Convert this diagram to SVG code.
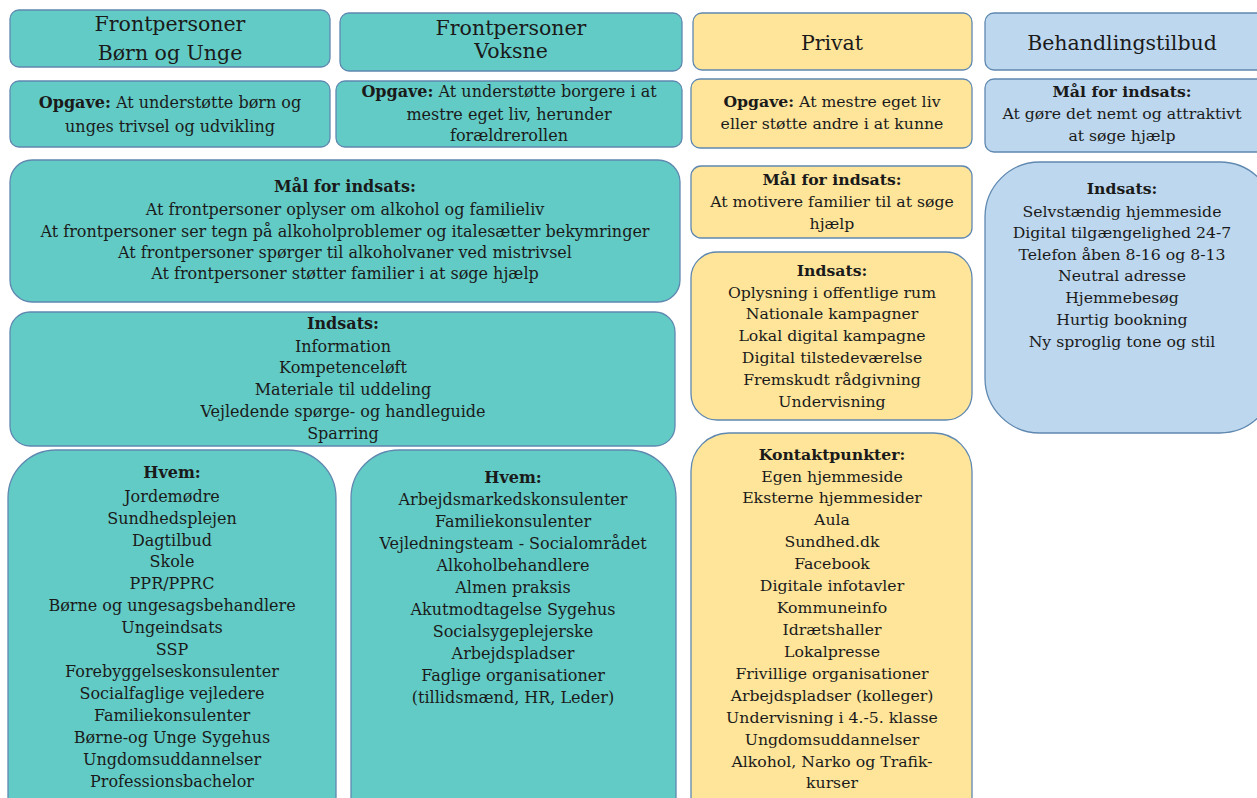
<svg xmlns="http://www.w3.org/2000/svg" width="1257" height="798" viewBox="0 0 1257 798">
  <style>
    .box { stroke: #5f88b0; stroke-width: 1.3; }
    .teal { fill: #63cbc5; }
    .yel { fill: #fee59a; }
    .blue { fill: #bdd7ee; }
    text { font-family: "DejaVu Serif", "Liberation Serif", serif; fill: #1a1a1a; text-anchor: middle; }
    .h { font-size: 20.5px; }
    .t { font-size: 15.7px; }
    .tt { font-size: 16px; }
    .b { font-weight: bold; }
  </style>
  <rect width="1257" height="798" fill="#ffffff"/>

  <!-- Column 1: Frontpersoner Børn og Unge -->
  <g id="hdr-boern">
    <rect class="box teal" x="10" y="10" width="320" height="57" rx="9"/>
    <text class="h" x="170" y="31">Frontpersoner</text>
    <text class="h" x="170" y="60">Børn og Unge</text>
  </g>
  <g id="opgave-boern">
    <rect class="box teal" x="10" y="81" width="320" height="66" rx="9"/>
    <text class="tt" x="170" y="108"><tspan class="b">Opgave:</tspan> At understøtte børn og</text>
    <text class="tt" x="170" y="132">unges trivsel og udvikling</text>
  </g>

  <!-- Column 2: Frontpersoner Voksne -->
  <g id="hdr-voksne">
    <rect class="box teal" x="340" y="13" width="342" height="58" rx="9"/>
    <text class="h" x="511" y="35">Frontpersoner</text>
    <text class="h" x="511" y="58">Voksne</text>
  </g>
  <g id="opgave-voksne">
    <rect class="box teal" x="336" y="81" width="346" height="66" rx="9"/>
    <text class="tt" x="509" y="97"><tspan class="b">Opgave:</tspan> At understøtte borgere i at</text>
    <text class="tt" x="509" y="120">mestre eget liv, herunder</text>
    <text class="tt" x="509" y="141">forældrerollen</text>
  </g>

  <!-- Shared frontpersoner boxes -->
  <g id="maal-front">
    <rect class="box teal" x="10" y="160" width="670" height="142" rx="22"/>
    <text class="tt b" x="345" y="192">Mål for indsats:</text>
    <text class="tt" x="345" y="215">At frontpersoner oplyser om alkohol og familieliv</text>
    <text class="tt" x="345" y="237">At frontpersoner ser tegn på alkoholproblemer og italesætter bekymringer</text>
    <text class="tt" x="345" y="258">At frontpersoner spørger til alkoholvaner ved mistrivsel</text>
    <text class="tt" x="345" y="279">At frontpersoner støtter familier i at søge hjælp</text>
  </g>
  <g id="indsats-front">
    <rect class="box teal" x="10" y="312" width="665" height="134" rx="20"/>
    <text class="tt b" x="343" y="329">Indsats:</text>
    <text class="tt" x="343" y="352">Information</text>
    <text class="tt" x="343" y="373">Kompetenceløft</text>
    <text class="tt" x="343" y="395">Materiale til uddeling</text>
    <text class="tt" x="343" y="417">Vejledende spørge- og handleguide</text>
    <text class="tt" x="343" y="439">Sparring</text>
  </g>

  <g id="hvem-boern">
    <rect class="box teal" x="8" y="450" width="328" height="400" rx="48"/>
    <text class="tt b" x="172" y="478">Hvem:</text>
    <text class="tt" x="172" y="502">Jordemødre</text>
    <text class="tt" x="172" y="524">Sundhedsplejen</text>
    <text class="tt" x="172" y="546">Dagtilbud</text>
    <text class="tt" x="172" y="567">Skole</text>
    <text class="tt" x="172" y="589">PPR/PPRC</text>
    <text class="tt" x="172" y="611">Børne og ungesagsbehandlere</text>
    <text class="tt" x="172" y="633">Ungeindsats</text>
    <text class="tt" x="172" y="655">SSP</text>
    <text class="tt" x="172" y="677">Forebyggelseskonsulenter</text>
    <text class="tt" x="172" y="699">Socialfaglige vejledere</text>
    <text class="tt" x="172" y="721">Familiekonsulenter</text>
    <text class="tt" x="172" y="743">Børne-og Unge Sygehus</text>
    <text class="tt" x="172" y="765">Ungdomsuddannelser</text>
    <text class="tt" x="172" y="787">Professionsbachelor</text>
  </g>

  <g id="hvem-voksne">
    <rect class="box teal" x="351" y="450" width="325" height="400" rx="48"/>
    <text class="tt b" x="513" y="483">Hvem:</text>
    <text class="tt" x="513" y="505">Arbejdsmarkedskonsulenter</text>
    <text class="tt" x="513" y="527">Familiekonsulenter</text>
    <text class="tt" x="513" y="549">Vejledningsteam - Socialområdet</text>
    <text class="tt" x="513" y="571">Alkoholbehandlere</text>
    <text class="tt" x="513" y="593">Almen praksis</text>
    <text class="tt" x="513" y="615">Akutmodtagelse Sygehus</text>
    <text class="tt" x="513" y="637">Socialsygeplejerske</text>
    <text class="tt" x="513" y="659">Arbejdspladser</text>
    <text class="tt" x="513" y="681">Faglige organisationer</text>
    <text class="tt" x="513" y="703">(tillidsmænd, HR, Leder)</text>
  </g>

  <!-- Column 3: Privat -->
  <g id="hdr-privat">
    <rect class="box yel" x="693" y="13" width="279" height="57" rx="9"/>
    <text class="h" x="832" y="50">Privat</text>
  </g>
  <g id="opgave-privat">
    <rect class="box yel" x="691" y="79" width="281" height="69" rx="9"/>
    <text class="t" x="832" y="107"><tspan class="b">Opgave:</tspan> At mestre eget liv</text>
    <text class="t" x="832" y="129">eller støtte andre i at kunne</text>
  </g>
  <g id="maal-privat">
    <rect class="box yel" x="691" y="166" width="281" height="72" rx="10"/>
    <text class="t b" x="832" y="185">Mål for indsats:</text>
    <text class="t" x="832" y="207">At motivere familier til at søge</text>
    <text class="t" x="832" y="229">hjælp</text>
  </g>
  <g id="indsats-privat">
    <rect class="box yel" x="691" y="252" width="281" height="168" rx="26"/>
    <text class="t b" x="832" y="276">Indsats:</text>
    <text class="t" x="832" y="298">Oplysning i offentlige rum</text>
    <text class="t" x="832" y="319">Nationale kampagner</text>
    <text class="t" x="832" y="341">Lokal digital kampagne</text>
    <text class="t" x="832" y="363">Digital tilstedeværelse</text>
    <text class="t" x="832" y="385">Fremskudt rådgivning</text>
    <text class="t" x="832" y="407">Undervisning</text>
  </g>
  <g id="kontakt-privat">
    <rect class="box yel" x="691" y="433" width="281" height="420" rx="38"/>
    <text class="t b" x="832" y="460">Kontaktpunkter:</text>
    <text class="t" x="832" y="482">Egen hjemmeside</text>
    <text class="t" x="832" y="503">Eksterne hjemmesider</text>
    <text class="t" x="832" y="525">Aula</text>
    <text class="t" x="832" y="547">Sundhed.dk</text>
    <text class="t" x="832" y="569">Facebook</text>
    <text class="t" x="832" y="591">Digitale infotavler</text>
    <text class="t" x="832" y="613">Kommuneinfo</text>
    <text class="t" x="832" y="635">Idrætshaller</text>
    <text class="t" x="832" y="657">Lokalpresse</text>
    <text class="t" x="832" y="679">Frivillige organisationer</text>
    <text class="t" x="832" y="701">Arbejdspladser (kolleger)</text>
    <text class="t" x="832" y="723">Undervisning i 4.-5. klasse</text>
    <text class="t" x="832" y="745">Ungdomsuddannelser</text>
    <text class="t" x="832" y="767">Alkohol, Narko og Trafik-</text>
    <text class="t" x="832" y="788">kurser</text>
  </g>

  <!-- Column 4: Behandlingstilbud -->
  <g id="hdr-behandling">
    <rect class="box blue" x="985" y="13" width="290" height="57" rx="9"/>
    <text class="h" x="1122" y="50">Behandlingstilbud</text>
  </g>
  <g id="maal-behandling">
    <rect class="box blue" x="985" y="79" width="290" height="73" rx="9"/>
    <text class="t b" x="1122" y="97">Mål for indsats:</text>
    <text class="t" x="1122" y="119">At gøre det nemt og attraktivt</text>
    <text class="t" x="1122" y="141">at søge hjælp</text>
  </g>
  <g id="indsats-behandling">
    <rect class="box blue" x="985" y="162" width="290" height="271" rx="55"/>
    <text class="t b" x="1122" y="194">Indsats:</text>
    <text class="t" x="1122" y="217">Selvstændig hjemmeside</text>
    <text class="t" x="1122" y="238">Digital tilgængelighed 24-7</text>
    <text class="t" x="1122" y="260">Telefon åben 8-16 og 8-13</text>
    <text class="t" x="1122" y="281">Neutral adresse</text>
    <text class="t" x="1122" y="303">Hjemmebesøg</text>
    <text class="t" x="1122" y="325">Hurtig bookning</text>
    <text class="t" x="1122" y="347">Ny sproglig tone og stil</text>
  </g>

  <!-- No connectors in this layout -->
  <g id="connectors"/>
</svg>
